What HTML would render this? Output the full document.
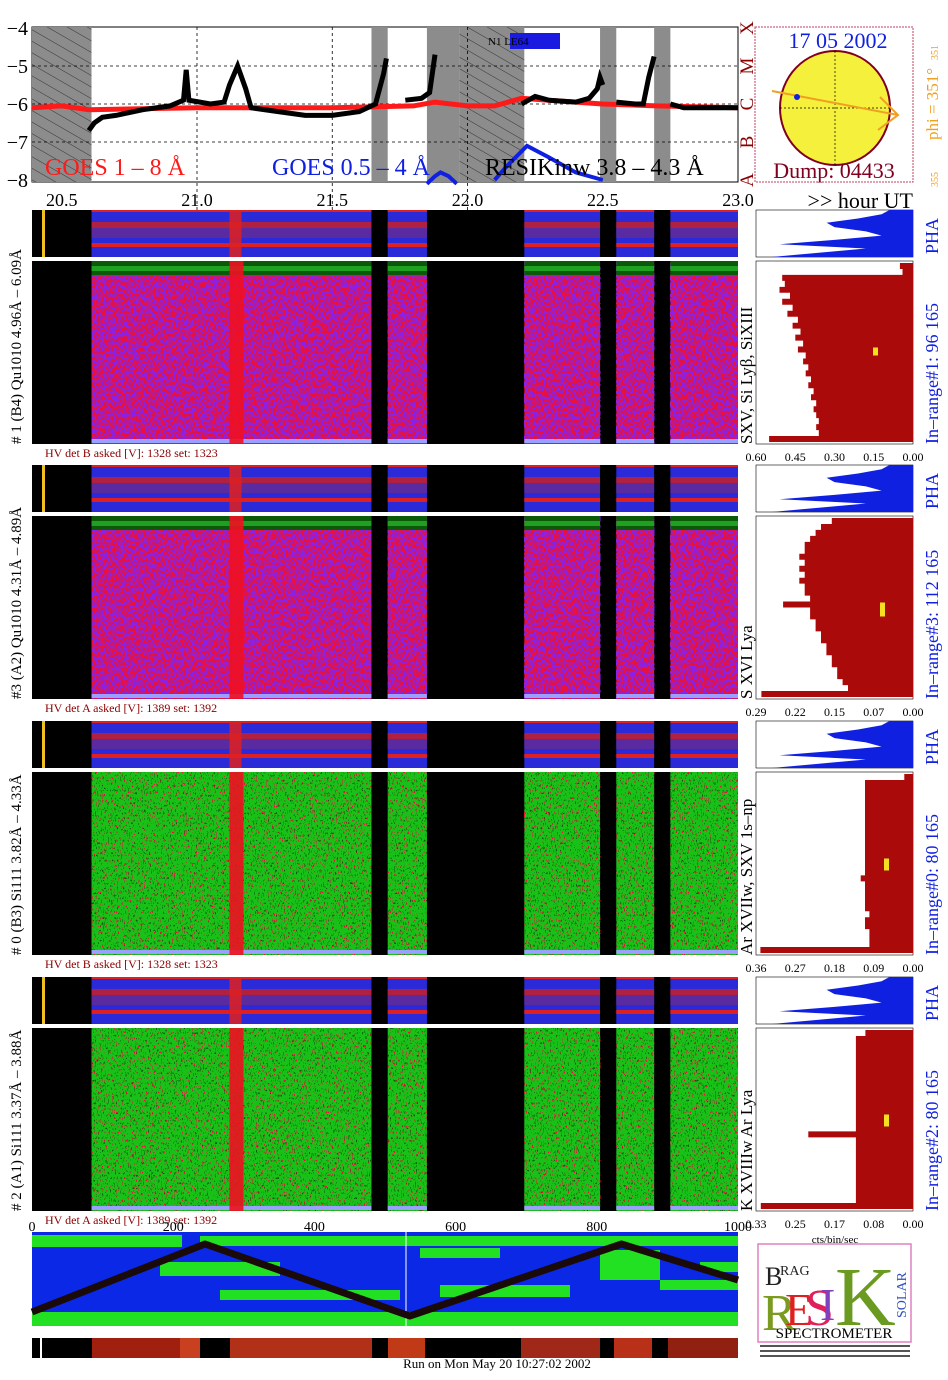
<!DOCTYPE html>
<html><head><meta charset="utf-8"><style>
html,body{margin:0;padding:0;background:#fff;}
svg{display:block;font-family:"Liberation Serif",serif;}
</style></head><body>
<svg id="s" width="948" height="1380" viewBox="0 0 948 1380" xmlns="http://www.w3.org/2000/svg">
<defs>
<pattern id="hatch" width="10" height="10" patternUnits="userSpaceOnUse" patternTransform="rotate(-60)"><rect width="10" height="10" fill="#8c8c8c"/><line x1="0" y1="0" x2="0" y2="10" stroke="#333" stroke-width="1"/></pattern>
<filter id="speckW" x="0" y="0" width="1" height="1"><feTurbulence type="fractalNoise" baseFrequency="0.9 0.35" numOctaves="1" seed="3" result="n"/><feComponentTransfer in="n" result="a"><feFuncA type="discrete" tableValues="0 0 0 1 1 1"/></feComponentTransfer><feFlood flood-color="#8a20e8"/><feComposite in2="a" operator="in"/></filter>
<filter id="speckWh" x="0" y="0" width="1" height="1"><feTurbulence type="fractalNoise" baseFrequency="0.9" numOctaves="1" seed="19" result="n"/><feComponentTransfer in="n" result="a"><feFuncA type="discrete" tableValues="0 0 0 0 0 0 0 0 1"/></feComponentTransfer><feFlood flood-color="#e8d8ff"/><feComposite in2="a" operator="in"/></filter>
<filter id="speckR" x="0" y="0" width="1" height="1"><feTurbulence type="fractalNoise" baseFrequency="0.9 0.35" numOctaves="1" seed="7" result="n"/><feComponentTransfer in="n" result="a"><feFuncA type="discrete" tableValues="0 0 0 0 1 1"/></feComponentTransfer><feFlood flood-color="#e81838"/><feComposite in2="a" operator="in"/></filter>
<filter id="speckK" x="0" y="0" width="1" height="1"><feTurbulence type="fractalNoise" baseFrequency="0.85 0.4" numOctaves="1" seed="11" result="n"/><feComponentTransfer in="n" result="a"><feFuncA type="discrete" tableValues="0 0 0 0 1 1"/></feComponentTransfer><feFlood flood-color="#0a5a0a"/><feComposite in2="a" operator="in"/></filter>
</defs>
<g id="topG"></g>
<g id="groups"></g>
<g id="bottom"></g>
</svg>
<script>
// ---------- data ----------
const hourTicks = [20.5, 21.0, 21.5, 22.0, 22.5, 23.0];
const hourTickLabels = ["20.5","21.0","21.5","22.0","22.5","23.0"];
const fluxTicks = [-4,-5,-6,-7,-8];
const classLetters = ["X","M","C","B","A"];
const resikT = [20.6,20.62,20.65,20.7,20.8,20.9,20.95,20.96,20.97,21.05,21.1,21.12,21.15,21.18,21.2,21.3,21.4,21.5,21.6,21.66,21.69,21.7,null,21.77,21.83,21.86,21.88,null,22.2,22.25,22.3,22.4,22.45,22.48,22.49,22.5,null,22.55,22.62,22.65,22.67,22.69,null,22.75,22.8,22.9,23.0];
const resikV = [-6.7,-6.5,-6.35,-6.3,-6.15,-6.05,-5.9,-5.1,-5.9,-6.0,-5.95,-5.5,-5.0,-5.6,-6.1,-6.2,-6.3,-6.3,-6.2,-6.0,-5.2,-4.8,null,-5.9,-5.85,-5.7,-4.7,null,-6.0,-5.8,-5.9,-5.95,-5.85,-5.6,-5.3,-5.5,null,-5.95,-6.0,-6.0,-5.3,-4.75,null,-6.0,-6.1,-6.1,-6.1];
const goesLT = [20.39,20.5,20.6,21.0,21.5,21.8,21.88,22.0,22.1,22.2,22.3,22.5,22.7,23.0];
const goesLV = [-6.1,-6.05,-6.15,-6.1,-6.1,-6.05,-5.95,-6.05,-6.05,-5.85,-5.9,-6.0,-6.05,-6.1];
const goesST = [21.85,21.88,21.9,21.93,21.96,null,22.1,22.15,22.22,22.3,22.4,22.5];
const goesSV = [-8.1,-7.9,-7.8,-7.9,-8.1,null,-8.0,-7.6,-7.1,-7.4,-7.8,-8.0];
const grayT0 = [21.645,21.85,22.49,22.69];
const grayT1 = [21.705,21.97,22.55,22.75];
const hatchT0 = [20.39,21.97];
const hatchT1 = [20.61,22.21];
const dataT0 = [20.61,21.705,22.21,22.55,22.75];
const dataT1 = [21.645,21.85,22.49,22.69,23.0];
const groupLabels = ["# 1 (B4) Qu1010 4.96Å – 6.09Å","#3 (A2) Qu1010  4.31Å – 4.89Å","# 0 (B3) Si111  3.82Å – 4.33Å","# 2 (A1) Si111  3.37Å – 3.88Å"];
const lineLabels = ["SXV, Si Lyβ, SiXIII","S XVI Lya","Ar XVIIw, SXV 1s–np","K XVIIIw  Ar Lya"];
const rangeLabels = ["In–range#1:  96 165","In–range#3:  112 165","In–range#0:  80 165","In–range#2:  80 165"];
const hvLabels = ["HV det B asked [V]:  1328 set:  1323","HV det A asked [V]:  1389 set:  1392","HV det B asked [V]:  1328 set:  1323","HV det A asked [V]:  1389 set:  1392"];
const histMax = [0.60,0.29,0.36,0.33];
const histTickLabels = [["0.60","0.45","0.30","0.15","0.00"],["0.29","0.22","0.15","0.07","0.00"],["0.36","0.27","0.18","0.09","0.00"],["0.33","0.25","0.17","0.08","0.00"]];
const hist0 = [0.05,0.04,0.5,0.49,0.51,0.47,0.5,0.46,0.48,0.44,0.46,0.43,0.45,0.42,0.44,0.41,0.42,0.4,0.41,0.39,0.4,0.38,0.39,0.37,0.38,0.37,0.36,0.37,0.36,0.55];
const hist1 = [0.15,0.17,0.18,0.19,0.2,0.2,0.21,0.2,0.21,0.2,0.21,0.2,0.2,0.19,0.24,0.19,0.19,0.18,0.18,0.17,0.17,0.16,0.16,0.15,0.15,0.14,0.14,0.13,0.12,0.28];
const hist2 = [0.02,0.11,0.11,0.11,0.11,0.11,0.11,0.11,0.11,0.11,0.11,0.11,0.11,0.11,0.11,0.11,0.11,0.12,0.11,0.11,0.11,0.11,0.11,0.1,0.11,0.11,0.1,0.1,0.1,0.35];
const hist3 = [0.1,0.12,0.12,0.12,0.12,0.12,0.12,0.12,0.12,0.12,0.12,0.12,0.12,0.12,0.12,0.12,0.12,0.22,0.12,0.12,0.12,0.12,0.12,0.12,0.12,0.12,0.12,0.12,0.12,0.32];
const phaProfile = [0.15,0.2,0.35,0.55,0.5,0.3,0.2,0.5,0.85,0.3,0.6,0.9];
const mapXTicks = [0,200,400,600,800,1000];
const trackLon = [0,245,535,835,1000];
const trackLat = [0.1,0.95,0.05,0.95,0.5];

// ---------- helpers ----------
const NS="http://www.w3.org/2000/svg";
function mk(parent,tag,attrs,text){const e=document.createElementNS(NS,tag);for(const k in attrs)e.setAttribute(k,attrs[k]);if(text!==undefined)e.textContent=text;parent.appendChild(e);return e;}
const X0=32,X1=738,T0=20.39,T1=23.0;
const xs=t=>X0+(t-T0)*(X1-X0)/(T1-T0);
const ys=v=>28+(-4-v)*38;
function pathFrom(ts,vs){let d="",pen=false;for(let i=0;i<ts.length;i++){if(ts[i]===null){pen=false;continue;}d+=(pen?"L":"M")+xs(ts[i]).toFixed(1)+" "+ys(vs[i]).toFixed(1);pen=true;}return d;}

// ---------- top plot ----------
const topG=document.getElementById('topG');
let r=mk(topG,'rect',{x:X0,y:27,width:X1-X0,height:155,fill:'#fff',stroke:'#000'});


for(let i=0;i<hatchT0.length;i++){const e=mk(topG,'rect',{x:xs(hatchT0[i]),y:27,width:xs(hatchT1[i])-xs(hatchT0[i]),height:155,fill:'url(#hatch)'});

}
for(let i=0;i<grayT0.length;i++){const e=mk(topG,'rect',{x:xs(grayT0[i]),y:27,width:xs(grayT1[i])-xs(grayT0[i]),height:155,fill:'#8c8c8c'});

}
for(const v of [-5,-6,-7]){mk(topG,'line',{x1:X0,x2:X1,y1:ys(v),y2:ys(v),stroke:'#000','stroke-dasharray':'3,3','stroke-width':0.8});}
for(const t of [21.0,21.5,22.0]){mk(topG,'line',{x1:xs(t),x2:xs(t),y1:27,y2:212,stroke:'#000','stroke-dasharray':'3,3','stroke-width':0.8});}
for(let i=0;i<fluxTicks.length;i++){const e=mk(topG,'text',{x:28,y:ys(fluxTicks[i])+7,'font-size':20,'text-anchor':'end'},'−'+(-fluxTicks[i]));


const c=mk(topG,'text',{x:0,y:0,'font-size':19,fill:'#8b0000',transform:`translate(753,${ys(fluxTicks[i])}) rotate(-90)`,'text-anchor':'middle'},classLetters[i]);

}
let p=mk(topG,'path',{d:pathFrom(goesLT,goesLV),stroke:'#ff1a1a','stroke-width':5,fill:'none'});


p=mk(topG,'path',{d:pathFrom(resikT,resikV),stroke:'#000','stroke-width':5,fill:'none'});


p=mk(topG,'path',{d:pathFrom(goesST,goesSV),stroke:'#1020e0','stroke-width':4,fill:'none'});


mk(topG,'rect',{x:510,y:33,width:50,height:16,fill:'#1a1ae0'});
mk(topG,'text',{x:488,y:45,'font-size':11},'N1 LE64');
let t=mk(topG,'text',{x:45,y:175,'font-size':24,fill:'#ff1a1a'},'GOES 1 – 8 Å');


t=mk(topG,'text',{x:272,y:175,'font-size':24,fill:'#1020e0'},'GOES 0.5 – 4 Å');


t=mk(topG,'text',{x:485,y:175,'font-size':24,fill:'#000'},'RESIKinw 3.8 – 4.3 Å');


for(let i=0;i<hourTicks.length;i++){const e=mk(topG,'text',{x:xs(hourTicks[i]),y:206,'font-size':18,'text-anchor':'middle'},hourTickLabels[i]);

}
t=mk(topG,'text',{x:913,y:208,'font-size':22,'text-anchor':'end'},'>> hour UT');


let sp=mk(topG,'rect',{x:755,y:27,width:158,height:155,fill:'#fff',stroke:'#c04060','stroke-dasharray':'2,1'});


mk(topG,'ellipse',{cx:835,cy:108,rx:55,ry:57,fill:'#f5f03c',stroke:'#800020','stroke-width':2});
mk(topG,'line',{x1:835,x2:835,y1:51,y2:165,stroke:'#000','stroke-dasharray':'2,2','stroke-width':0.7});
mk(topG,'line',{x1:780,x2:890,y1:108,y2:108,stroke:'#000','stroke-dasharray':'2,2','stroke-width':0.7});
mk(topG,'path',{d:'M772 91 L898 115 M880 97 L898 115 L878 130',stroke:'#f0a020','stroke-width':2,fill:'none'});
mk(topG,'circle',{cx:797,cy:97,r:3,fill:'#1020e0'});
t=mk(topG,'text',{x:838,y:48,'font-size':22,fill:'#1020e0','text-anchor':'middle'},'17 05 2002');


t=mk(topG,'text',{x:834,y:178,'font-size':22,fill:'#800020','text-anchor':'middle'},'Dump: 04433');


t=mk(topG,'text',{x:0,y:0,'font-size':17,fill:'#f0a020',transform:'translate(938,140) rotate(-90)'},'phi = 351°');


mk(topG,'text',{x:0,y:0,'font-size':10,fill:'#f0a020',transform:'translate(938,60) rotate(-90)'},'351');
mk(topG,'text',{x:0,y:0,'font-size':10,fill:'#f0a020',transform:'translate(938,187) rotate(-90)'},'355');

// ---------- spectrum groups ----------
const G=document.getElementById('groups');
const gy=[210,465,721,977];
const hists=[hist0,hist1,hist2,hist3];
const isGreen=[false,false,true,true];
for(let g=0;g<4;g++){
  const y0=gy[g], sy=y0, sh=47, my=y0+51, mh=183;
  const grp=mk(G,'g',{});
  
  
  mk(grp,'rect',{x:X0,y:sy,width:X1-X0,height:sh,fill:'#000'});
  mk(grp,'rect',{x:X0,y:my,width:X1-X0,height:mh,fill:'#000'});
  for(let i=0;i<dataT0.length;i++){
    const a=xs(dataT0[i]),w=xs(dataT1[i])-a;
    mk(grp,'rect',{x:a,y:sy,width:w,height:sh,fill:'#2a2ad8'});
    mk(grp,'rect',{x:a,y:sy+12,width:w,height:6,fill:'#b02040'});
    mk(grp,'rect',{x:a,y:sy+18,width:w,height:10,fill:'#5a2aa0'});
    mk(grp,'rect',{x:a,y:sy+33,width:w,height:4,fill:'#e02020'});
    mk(grp,'rect',{x:a,y:sy,width:w,height:2,fill:'#e02020'});
    if(isGreen[g]){
      mk(grp,'rect',{x:a,y:my,width:w,height:mh,fill:'#18c018'});
      mk(grp,'rect',{x:a,y:my,width:w,height:mh,filter:'url(#speckK)'});
      mk(grp,'rect',{x:a,y:my,width:w,height:mh,filter:'url(#speckR)'});
    }else{
      mk(grp,'rect',{x:a,y:my,width:w,height:mh,fill:'#e8103a'});
      mk(grp,'rect',{x:a,y:my,width:w,height:mh,filter:'url(#speckW)'});
      mk(grp,'rect',{x:a,y:my,width:w,height:mh,filter:'url(#speckWh)'});
      mk(grp,'rect',{x:a,y:my,width:w,height:14,fill:'#0a5a0a'});
      mk(grp,'rect',{x:a,y:my+5,width:w,height:5,fill:'#20a020'});
    }
    mk(grp,'rect',{x:a,y:my+mh-5,width:w,height:4,fill:'#9aa0ff'});
  }
  mk(grp,'rect',{x:xs(21.12),y:sy,width:12,height:sh,fill:'#e02020',opacity:0.85});
  mk(grp,'rect',{x:xs(21.12),y:my,width:14,height:mh,fill:'#f01020',opacity:0.9});
  mk(grp,'rect',{x:42,y:sy,width:3,height:sh,fill:'#f0c020'});
  const lt=mk(grp,'text',{x:0,y:0,'font-size':15,transform:`translate(21,${my+mh}) rotate(-90)`},groupLabels[g]);
  
  
  const hv=mk(grp,'text',{x:45,y:my+mh+13,'font-size':12,fill:'#8b0000'},hvLabels[g]);
  
  
  const hx0=756,hx1=913;
  mk(grp,'rect',{x:hx0,y:sy,width:hx1-hx0,height:sh,fill:'#fff',stroke:'#000','stroke-width':0.6});
  let d=`M${hx1} ${sy}`;
  for(let i=0;i<phaProfile.length;i++){const yy=sy+i*(sh/(phaProfile.length-1));d+=` L${(hx1-phaProfile[i]*(hx1-hx0)).toFixed(1)} ${yy.toFixed(1)}`;}
  d+=` L${hx1} ${sy+sh} Z`;
  const ph=mk(grp,'path',{d:d,fill:'#1020e0'});
  
  
  mk(grp,'text',{x:0,y:0,'font-size':18,fill:'#1020e0',transform:`translate(938,${sy+sh-3}) rotate(-90)`},'PHA');
  mk(grp,'rect',{x:hx0,y:my,width:hx1-hx0,height:mh,fill:'#fff',stroke:'#000','stroke-width':0.6});
  const hv2=hists[g],n=hv2.length;
  let hd=`M${hx1} ${my+2}`;
  for(let i=0;i<n;i++){const y1=my+2+i*(mh-4)/n,y2=my+2+(i+1)*(mh-4)/n,xx=hx1-hv2[i]/histMax[g]*(hx1-hx0);hd+=` L${xx.toFixed(1)} ${y1.toFixed(1)} L${xx.toFixed(1)} ${y2.toFixed(1)}`;}
  hd+=` L${hx1} ${my+mh-2} Z`;
  const hp=mk(grp,'path',{d:hd,fill:'#aa0a0a'});
  
  
  mk(grp,'rect',{x:[873,880,884,884][g],y:my+mh/2-5,width:5,height:[8,14,12,12][g],fill:'#f5e020'});
  for(let k=0;k<5;k++){const e=mk(grp,'text',{x:hx0+k*(hx1-hx0)/4,y:my+mh+17,'font-size':12,'text-anchor':'middle'},histTickLabels[g][k]);
  
  }
  const ll=mk(grp,'text',{x:0,y:0,'font-size':17,transform:`translate(752,${my+mh}) rotate(-90)`},lineLabels[g]);
  
  
  const rl=mk(grp,'text',{x:0,y:0,'font-size':18,fill:'#1020e0',transform:`translate(938,${my+mh}) rotate(-90)`},rangeLabels[g]);
  
  
}
mk(G,'text',{x:835,y:1243,'font-size':11,'text-anchor':'middle'},'cts/bin/sec');

// ---------- bottom map ----------
const B=document.getElementById('bottom');
const mx=v=>X0+v*(X1-X0)/1000;
const MY0=1232,MH=94;
for(let i=0;i<mapXTicks.length;i++){const e=mk(B,'text',{x:mx(mapXTicks[i]),y:1231,'font-size':14,'text-anchor':'middle'},String(mapXTicks[i]));

}
const bm=mk(B,'rect',{x:X0,y:MY0,width:X1-X0,height:MH,fill:'#0a28e6'});


const greens=[[32,1235,150,12],[200,1236,540,10],[32,1312,706,14],[160,1262,120,14],[220,1290,180,10],[420,1248,80,10],[440,1285,130,12],[600,1250,60,30],[660,1280,80,10],[700,1262,120,10],[600,1236,138,8]];
for(const gbox of greens){mk(B,'rect',{x:gbox[0],y:gbox[1],width:Math.min(gbox[2],738-gbox[0]),height:gbox[3],fill:'#22e022'});}
mk(B,'line',{x1:406,x2:406,y1:MY0,y2:MY0+MH,stroke:'#fff','stroke-width':1});
let td='';for(let i=0;i<trackLon.length;i++){td+=(i?'L':'M')+mx(trackLon[i]).toFixed(1)+' '+(MY0+MH-6-trackLat[i]*(MH-14)).toFixed(1);}
const tr=mk(B,'path',{d:td,stroke:'#1a0a0a','stroke-width':7,fill:'none','stroke-linejoin':'round'});


mk(B,'rect',{x:X0,y:1338,width:X1-X0,height:20,fill:'#000'});
const barSegs=[[92,180,'#a02010'],[180,200,'#c84020'],[230,372,'#b03018'],[388,425,'#c03a18'],[521,600,'#a02818'],[614,652,'#b83018'],[668,738,'#902010']];
for(const s of barSegs){mk(B,'rect',{x:s[0],y:1338,width:s[1]-s[0],height:20,fill:s[2]});}
mk(B,'rect',{x:40,y:1338,width:2,height:20,fill:'#fff'});
let rt=mk(B,'text',{x:497,y:1368,'font-size':13,'text-anchor':'middle'},'Run on Mon May 20 10:27:02 2002');


const L=mk(B,'g',{});


mk(L,'rect',{x:758,y:1244,width:153,height:98,fill:'#fff',stroke:'#e080c0','stroke-width':1.5});
mk(L,'text',{x:765,y:1285,'font-size':26,fill:'#222'},'B');
mk(L,'text',{x:780,y:1275,'font-size':14,fill:'#222'},'RAG');
mk(L,'text',{x:762,y:1330,'font-size':52,fill:'#7a9a20'},'R');
mk(L,'text',{x:785,y:1325,'font-size':46,fill:'#e02020'},'E');
mk(L,'text',{x:805,y:1325,'font-size':52,fill:'#e0205a'},'S');
mk(L,'text',{x:820,y:1320,'font-size':46,fill:'#8040c0'},'I');
mk(L,'text',{x:835,y:1325,'font-size':84,fill:'#6a9a20'},'K');
mk(L,'text',{x:0,y:0,'font-size':14,fill:'#3050c0',transform:'translate(906,1318) rotate(-90)'},'SOLAR');
mk(L,'text',{x:834,y:1338,'font-size':15,'text-anchor':'middle'},'SPECTROMETER');
for(let i=0;i<3;i++){mk(L,'rect',{x:760,y:1345+i*5,width:150,height:2,fill:'#555'});}
</script>
</body></html>
